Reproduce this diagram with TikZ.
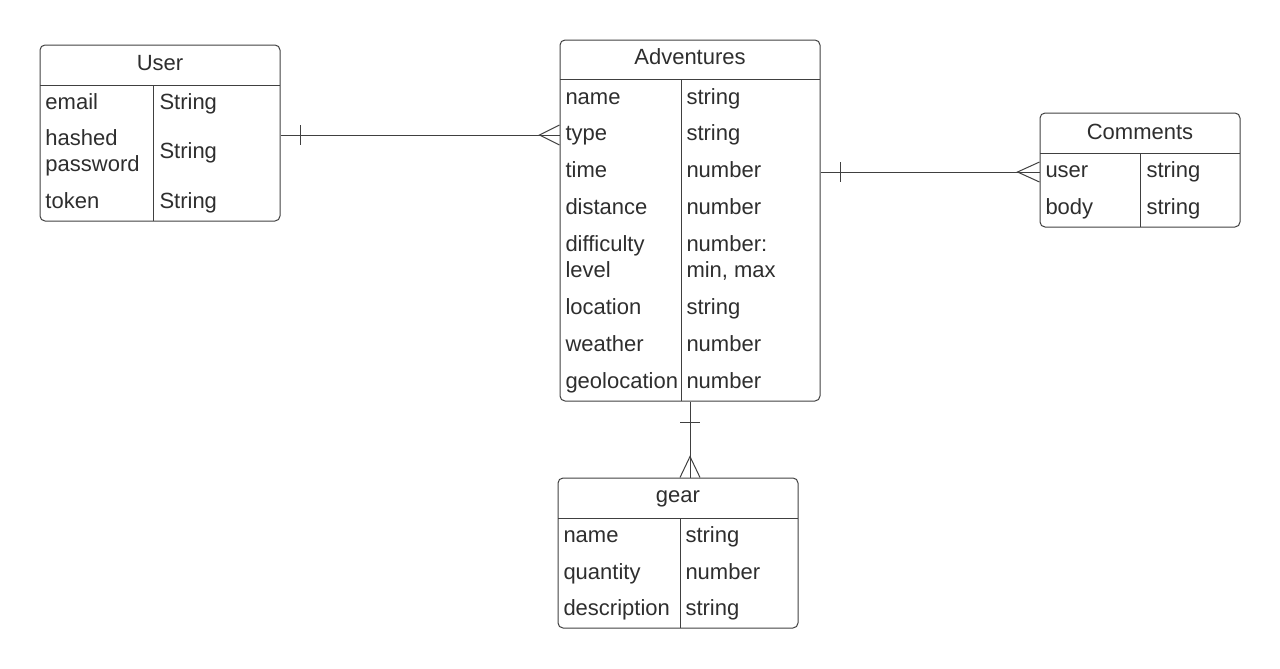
\documentclass[tikz,border=0pt]{standalone}
\usepackage{fontspec}
\setmainfont{Liberation Sans}
\usetikzlibrary{positioning}

\begin{document}
\begin{tikzpicture} [x=0.5pt,y=-0.5pt,line width=0.5pt,
  entity/.style={draw=black!75,rounded corners=2.5pt,inner sep=0pt},
  field/.style={anchor=base west,inner sep=0pt,align=left,text=black!82,
    font=\fontsize{11}{13}\selectfont},
  title/.style={anchor=base,inner sep=0pt,text=black!82,font=\fontsize{11}{13}\selectfont},
  rule/.style={draw=black!75}]

  \useasboundingbox (0,0) rectangle (1280,669);

  % tables
  \node[entity, minimum width=120pt, minimum height=88pt] (user) at (160,133) {};
  \node[entity, minimum width=130pt, minimum height=180.5pt] (adv) at (690,220.5) {};
  \node[entity, minimum width=100pt, minimum height=57pt] (comments) at (1140,170) {};
  \node[entity, minimum width=120pt, minimum height=75pt] (gear) at (678,553) {};

  \draw[rule] (40,85) -- (280,85) (153,85) -- (153,221);
  \draw[rule] (560,79) -- (820,79) (681,79) -- (681,401);
  \draw[rule] (1040,153) -- (1240,153) (1140,153) -- (1140,227);
  \draw[rule] (558,518) -- (798,518) (680,518) -- (680,628);

  % User
  \node[title] (userT) at (160,70) {User};
  \node[field] (u1) at (45,109) {email};
  \node[field] (u2) at (45,171) {hashed\\password};
  \node[field] (u3) at (45,208) {token};
  \node[field] (u1t) at (159,109) {String};
  \node[field] (u2t) at (159,158) {String};
  \node[field] (u3t) at (159,208) {String};

  % Adventures
  \node[title] (advT) at (690,64) {Adventures};
  \node[field] (a1) at (565,104) {name};
  \node[field] (a2) at (565,140) {type};
  \node[field] (a3) at (565,177) {time};
  \node[field] (a4) at (565,214) {distance};
  \node[field] (a5) at (565,277) {difficulty\\level};
  \node[field] (a6) at (565,314) {location};
  \node[field] (a7) at (565,351) {weather};
  \node[field] (a8) at (565,388) {geolocation};
  \node[field] (a1t) at (686,104) {string};
  \node[field] (a2t) at (686,140) {string};
  \node[field] (a3t) at (686,177) {number};
  \node[field] (a4t) at (686,214) {number};
  \node[field] (a5t) at (686,277) {number:\\min, max};
  \node[field] (a6t) at (686,314) {string};
  \node[field] (a7t) at (686,351) {number};
  \node[field] (a8t) at (686,388) {number};

  % Comments
  \node[title] (comT) at (1140,139) {Comments};
  \node[field] (c1) at (1045,177) {user};
  \node[field] (c2) at (1045,214) {body};
  \node[field] (c1t) at (1146,177) {string};
  \node[field] (c2t) at (1146,214) {string};

  % gear
  \node[title] (gearT) at (678,502) {gear};
  \node[field] (g1) at (563,542) {name};
  \node[field] (g2) at (563,579) {quantity};
  \node[field] (g3) at (563,615) {description};
  \node[field] (g1t) at (685,542) {string};
  \node[field] (g2t) at (685,579) {number};
  \node[field] (g3t) at (685,615) {string};

  % relations
  \draw[rule] ([yshift=-1pt]user.east) -- ([yshift=-1pt]user.east -| adv.west) coordinate (ua);
  \draw[rule] ([yshift=-1pt]user.east) ++(20,-10) -- ++(0,20);
  \draw[rule] (ua) ++(0,-10) -- ++(-20,10) -- ++(20,10);

  \draw[rule] ([yshift=-1pt]comments.west -| adv.east) coordinate (ac) -- ([yshift=-1pt]comments.west) coordinate (ca);
  \draw[rule] (ac) ++(20,-10) -- ++(0,20);
  \draw[rule] (ca) ++(0,-10) -- ++(-22,10) -- ++(22,10);

  \draw[rule] (adv.south) -- (adv.south |- gear.north) coordinate (ag);
  \draw[rule] (adv.south) ++(-10,21) -- ++(20,0);
  \draw[rule] (ag) ++(-10,0) -- ++(10,-21) -- ++(10,21);

\end{tikzpicture}
\end{document}
